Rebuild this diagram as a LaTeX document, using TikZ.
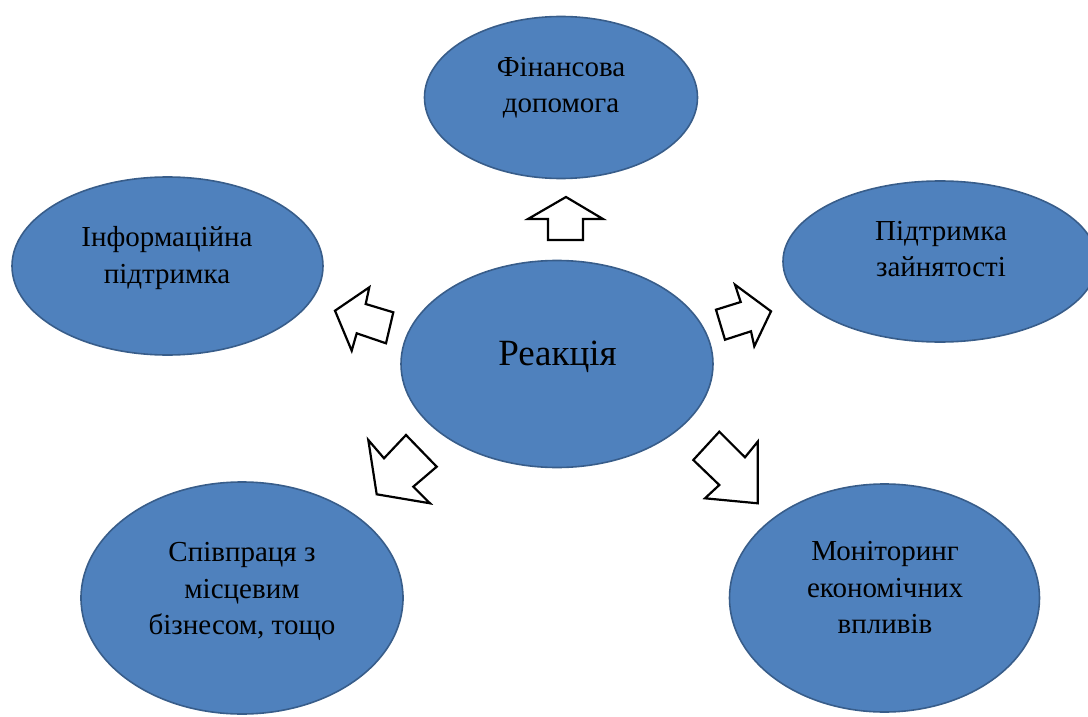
\documentclass[tikz,border=0pt]{standalone}
\usepackage{fontspec}
\setmainfont{Liberation Serif}
\usetikzlibrary{shapes.geometric}
\definecolor{shapefill}{HTML}{4F81BD}
\definecolor{shapeline}{HTML}{385D8A}
\tikzset{
  oval/.style={ellipse, draw=shapeline, line width=1.6pt, fill=shapefill, inner sep=0pt},
  ovaltext/.style={anchor=base, align=center, font=\fontsize{29}{36.5}\selectfont, inner sep=0pt},
  blockarrow/.style={draw=black, line width=2.2pt, fill=white, line join=miter}
}
\begin{document}
\begin{tikzpicture}[x=1pt,y=-1pt]
\useasboundingbox (0,0) rectangle (1088,717);
% ellipses
\node[oval, minimum width=273pt, minimum height=162pt] (fin) at (561,97.5) {};
\node[oval, minimum width=311pt, minimum height=178pt] (info) at (167.5,266) {};
\node[oval, minimum width=314pt, minimum height=161pt] (empl) at (940,261.5) {};
\node[oval, minimum width=312pt, minimum height=207pt] (react) at (557,364) {};
\node[oval, minimum width=322pt, minimum height=232pt] (coop) at (242,598) {};
\node[oval, minimum width=310pt, minimum height=228pt] (mon) at (884.5,598) {};
% texts (anchor = baseline of last line)
\node[ovaltext] (finT) at (561,113) {Фінансова\\допомога};
\node[ovaltext] (infoT) at (167,283.2) {Інформаційна\\підтримка};
\node[ovaltext] (emplT) at (941,276.5) {Підтримка\\зайнятості};
\node[anchor=base, inner sep=0pt, font=\fontsize{37}{44}\selectfont] (reactT) at (557.5,365.7) {Реакція};
\node[ovaltext] (coopT) at (242,634.7) {Співпраця з\\місцевим\\бізнесом, тощо};
\node[ovaltext] (monT) at (885,633.7) {Моніторинг\\економічних\\впливів};
% block arrows
\draw[blockarrow] (566,197) -- (603,219) -- (583,219) -- (583,240) -- (548,240) -- (548,219) -- (528,219) -- cycle;
\draw[blockarrow] (335,310.7) -- (369.3,287.3) -- (365.7,304) -- (393.3,312.3) -- (386,343.3) -- (356.7,333.3) -- (351.7,350.7) -- cycle;
\draw[blockarrow] (771,311.3) -- (735,284.7) -- (740.7,302) -- (716,309.7) -- (725,339.7) -- (751,331.3) -- (754.3,346.3) -- cycle;
\draw[blockarrow] (376.7,494.3) -- (368.3,440) -- (384,458.3) -- (406,435) -- (436.7,466.7) -- (413.3,486.7) -- (430,503.3) -- cycle;
\draw[blockarrow] (757.7,503.3) -- (757.7,441.7) -- (745,457.3) -- (719.3,431.7) -- (693.3,460) -- (719.3,485) -- (705,498.3) -- cycle;
\end{tikzpicture}
\end{document}
